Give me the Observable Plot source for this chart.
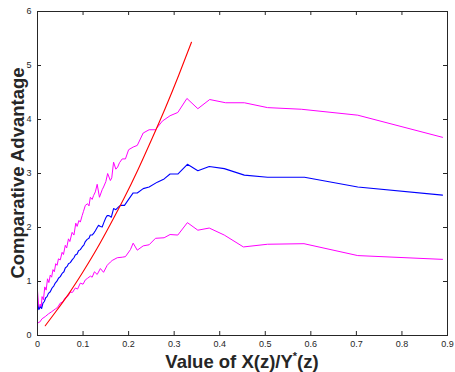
<!DOCTYPE html>
<html>
<head>
<meta charset="utf-8">
<script src="https://cdn.jsdelivr.net/npm/d3@7"></script>
<script src="https://cdn.jsdelivr.net/npm/@observablehq/plot@0.6"></script>
<style>
  html, body { margin: 0; padding: 0; background: #fff; }
  #chart svg { display: block; }
</style>
</head>
<body>
<div id="chart"></div>
<script>
const xTicks = [0, 0.1, 0.2, 0.3, 0.4, 0.5, 0.6, 0.7, 0.8, 0.9];
const yTicks = [0, 1, 2, 3, 4, 5, 6];
const xLabelMain = "Value of X(z)/Y";
const xLabelSup = "*";
const xLabelTail = "(z)";
const yLabel = "Comparative Advantage";

// upper band (magenta)
const upperX = [0.000,0.002,0.004,0.006,0.008,0.010,0.013,0.016,0.019,0.022,0.025,0.028,0.031,0.034,0.037,0.040,0.043,0.046,0.050,0.054,0.057,0.061,0.064,0.068,0.071,0.076,0.080,0.084,0.087,0.091,0.094,0.098,0.101,0.105,0.110,0.113,0.116,0.120,0.123,0.127,0.131,0.136,0.142,0.145,0.150,0.154,0.160,0.163,0.167,0.172,0.176,0.180,0.186,0.193,0.200,0.210,0.219,0.232,0.245,0.259,0.274,0.291,0.308,0.328,0.352,0.378,0.413,0.454,0.505,0.579,0.703,0.889];
const upperY = [0.83,0.60,0.50,0.58,0.52,0.72,0.66,0.90,0.84,1.05,0.98,1.12,1.08,1.22,1.18,1.33,1.30,1.42,1.40,1.54,1.50,1.67,1.62,1.79,1.74,1.91,1.86,2.08,2.02,2.13,2.10,2.22,2.30,2.41,2.44,2.40,2.56,2.52,2.59,2.66,2.80,2.56,2.70,2.75,2.85,3.00,2.87,2.92,3.21,3.08,3.12,3.20,3.27,3.27,3.44,3.49,3.52,3.75,3.81,3.81,3.97,4.07,4.13,4.39,4.20,4.37,4.31,4.31,4.22,4.19,4.08,3.67];

// mean (blue)
const meanX = [0.000,0.003,0.006,0.009,0.012,0.015,0.018,0.021,0.024,0.028,0.032,0.036,0.039,0.043,0.046,0.050,0.054,0.058,0.061,0.065,0.068,0.072,0.076,0.080,0.083,0.087,0.090,0.094,0.098,0.102,0.105,0.109,0.113,0.116,0.120,0.124,0.127,0.131,0.134,0.138,0.142,0.146,0.150,0.153,0.157,0.162,0.167,0.172,0.178,0.182,0.191,0.200,0.210,0.219,0.232,0.245,0.263,0.278,0.291,0.308,0.329,0.352,0.377,0.410,0.454,0.505,0.586,0.703,0.889];
const meanY = [0.58,0.48,0.53,0.50,0.60,0.63,0.70,0.72,0.78,0.81,0.88,0.92,0.97,1.01,1.06,1.09,1.15,1.18,1.25,1.28,1.33,1.35,1.40,1.44,1.49,1.51,1.57,1.59,1.64,1.68,1.74,1.78,1.80,1.86,1.86,1.90,1.94,2.00,2.04,2.02,2.01,2.10,2.18,2.22,2.22,2.19,2.35,2.33,2.38,2.41,2.41,2.52,2.64,2.64,2.72,2.75,2.84,2.90,2.99,2.99,3.17,3.05,3.13,3.09,2.97,2.93,2.93,2.75,2.60];

// lower band (magenta)
const lowerX = [0.000,0.005,0.010,0.017,0.024,0.031,0.039,0.044,0.050,0.055,0.061,0.066,0.072,0.077,0.083,0.088,0.094,0.100,0.105,0.110,0.116,0.120,0.125,0.131,0.138,0.145,0.153,0.160,0.164,0.175,0.186,0.193,0.204,0.210,0.219,0.232,0.245,0.259,0.278,0.291,0.308,0.329,0.352,0.377,0.410,0.452,0.505,0.585,0.703,0.889];
const lowerY = [0.23,0.25,0.31,0.35,0.40,0.44,0.49,0.52,0.60,0.62,0.70,0.72,0.80,0.80,0.88,0.86,0.97,0.95,1.03,1.06,1.10,1.08,1.18,1.13,1.24,1.17,1.30,1.36,1.39,1.44,1.45,1.46,1.59,1.71,1.58,1.66,1.68,1.80,1.81,1.87,1.86,2.09,1.95,1.99,1.86,1.64,1.69,1.70,1.48,1.41];

// red curve
const redX = [0.017,0.040,0.070,0.100,0.130,0.160,0.190,0.220,0.250,0.280,0.310,0.338];
const redY = [0.18,0.44,0.79,1.18,1.60,2.06,2.54,3.06,3.62,4.20,4.82,5.43];

const toRows = (xs, ys) => xs.map((x, i) => ({x, y: ys[i]}));
const upper = toRows(upperX, upperY);
const mean = toRows(meanX, meanY);
const lower = toRows(lowerX, lowerY);
const red = toRows(redX, redY);

const W = 455, H = 372;
const mL = 37, mR = 8, mT = 11, mB = 37;
const innerH = H - mT - mB, innerW = W - mL - mR;
const tk = 4;
const axisColor = "#262626";

const plot = Plot.plot({
  width: W, height: H,
  marginLeft: mL, marginRight: mR, marginTop: mT, marginBottom: mB,
  style: {fontFamily: "'Liberation Sans', Arial, Helvetica, sans-serif", fontSize: "9px", color: axisColor, background: "#fff"},
  x: {domain: [0, 0.9]},
  y: {domain: [0, 6]},
  marks: [
    Plot.line(lower, {x: "x", y: "y", stroke: "#ff00ff", strokeWidth: 1}),
    Plot.line(upper, {x: "x", y: "y", stroke: "#ff00ff", strokeWidth: 1}),
    Plot.line(mean, {x: "x", y: "y", stroke: "#0000ff", strokeWidth: 1.1}),
    Plot.line(red, {x: "x", y: "y", stroke: "#ff0000", strokeWidth: 1.1, curve: "natural"}),
    Plot.frame({stroke: axisColor, strokeWidth: 1}),
    Plot.tickX(xTicks, {x: d => d, insetTop: innerH - tk, stroke: axisColor}),
    Plot.tickX(xTicks, {x: d => d, insetBottom: innerH - tk, stroke: axisColor}),
    Plot.tickY(yTicks, {y: d => d, insetRight: innerW - tk, stroke: axisColor}),
    Plot.tickY(yTicks, {y: d => d, insetLeft: innerW - tk, stroke: axisColor}),
    Plot.axisX(xTicks, {anchor: "bottom", tickSize: 0, tickPadding: 5, label: null, tickFormat: d => String(d), fill: axisColor}),
    Plot.axisY(yTicks, {anchor: "left", tickSize: 0, tickPadding: 6, label: null, tickFormat: d => String(d), fill: axisColor})
  ]
});

document.getElementById("chart").appendChild(plot);

const svg = d3.select(plot);
const fam = "'Liberation Sans', Arial, Helvetica, sans-serif";
svg.append("text")
  .attr("transform", `translate(17,${mT + innerH / 2}) rotate(-90)`)
  .attr("text-anchor", "middle")
  .attr("dominant-baseline", "central")
  .attr("font-family", fam)
  .attr("font-weight", "bold")
  .attr("font-size", 18.5)
  .attr("fill", axisColor)
  .text(yLabel);

const xl = svg.append("text")
  .attr("x", mL + innerW / 2)
  .attr("y", 368)
  .attr("text-anchor", "middle")
  .attr("font-family", fam)
  .attr("font-weight", "bold")
  .attr("font-size", 18.5)
  .attr("fill", axisColor);
xl.append("tspan").text(xLabelMain);
xl.append("tspan").attr("dy", -8).attr("font-size", 11).text(xLabelSup);
xl.append("tspan").attr("dy", 8).text(xLabelTail);
</script>
</body>
</html>
